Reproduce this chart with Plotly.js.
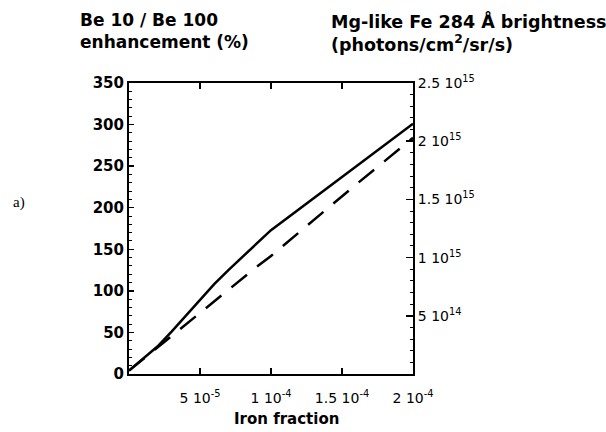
<!DOCTYPE html>
<html>
<head>
<meta charset="utf-8">
<script src="https://cdn.plot.ly/plotly-3.0.1.min.js"></script>
<style>html,body{margin:0;padding:0;background:#fff}#chart{width:606px;height:432px}</style>
</head>
<body>
<div id="chart"></div>
<script>
// Iron fraction values (solid curve)
const ironFraction = [0, 1e-5, 2e-5, 3e-5, 4e-5, 5e-5, 6e-5, 7e-5, 8e-5, 9e-5, 1e-4, 1.5e-4, 2e-4];
// Be 10 / Be 100 enhancement (%) — solid line, left axis
const enhancement = [4, 18, 33, 51, 70, 89, 108, 125, 141, 157, 173, 237, 301];
// Iron fraction values (dashed curve)
const brightnessX = [0, 1e-5, 2e-5, 3e-5, 4e-5, 5e-5, 6e-5, 7e-5, 8e-5, 9e-5, 1e-4, 1.2e-4, 1.4e-4, 1.6e-4, 1.8e-4, 2e-4];
// Mg-like Fe 284 Å brightness (photons/cm2/sr/s) — dashed line, right axis
const brightness = [2.9e13, 1.29e14, 2.21e14, 3.21e14, 4.21e14, 5.21e14, 6.21e14, 7.21e14, 8.21e14, 9.21e14, 1.014e15, 1.221e15, 1.421e15, 1.629e15, 1.829e15, 2.029e15];

const xTickVals = [5e-5, 1e-4, 1.5e-4, 2e-4];
const xTickText = ["5 10<sup>-5</sup>", "1 10<sup>-4</sup>", "1.5 10<sup>-4</sup>", "2 10<sup>-4</sup>"];
const yTickVals = [0, 50, 100, 150, 200, 250, 300, 350];
const y2TickVals = [5e14, 1e15, 1.5e15, 2e15, 2.5e15];
const y2TickText = ["5 10<sup>14</sup>", "1 10<sup>15</sup>", "1.5 10<sup>15</sup>", "2 10<sup>15</sup>", "2.5 10<sup>15</sup>"];

const FONT = "DejaVu Sans, Verdana, sans-serif";

const traces = [
  {x: ironFraction, y: enhancement, type: 'scatter', mode: 'lines',
   line: {color: '#000', width: 2.5}, yaxis: 'y', showlegend: false},
  {x: brightnessX, y: brightness, type: 'scatter', mode: 'lines',
   line: {color: '#000', width: 2.5, dash: '20px,13px'}, yaxis: 'y2', showlegend: false}
];

const layout = {
  width: 606, height: 432,
  margin: {l: 129, r: 193, t: 83, b: 58},
  paper_bgcolor: '#fff', plot_bgcolor: '#fff',
  font: {family: FONT, color: '#000'},
  showlegend: false,
  xaxis: {
    range: [0, 2e-4], tickvals: xTickVals, ticktext: xTickText,
    ticks: 'inside', ticklen: 6, tickwidth: 1.5, tickcolor: '#000',
    showline: true, linewidth: 2, linecolor: '#000', mirror: 'ticks',
    showgrid: false, zeroline: false, ticklabelstandoff: 10,
    tickfont: {family: FONT, size: 14, color: '#000'}
  },
  yaxis: {
    range: [0, 350], tickvals: yTickVals,
    ticks: 'inside', ticklen: 5, tickwidth: 1.5, tickcolor: '#000',
    minor: {dtick: 10, ticks: 'inside', ticklen: 3, tickwidth: 1, tickcolor: '#000'},
    showline: true, linewidth: 2, linecolor: '#000',
    showgrid: false, zeroline: false,
    tickfont: {family: FONT, size: 15, color: '#000', weight: 'bold'}
  },
  yaxis2: {
    range: [0, 2.5e15], overlaying: 'y', side: 'right',
    tickvals: y2TickVals, ticktext: y2TickText,
    ticks: 'inside', ticklen: 7, tickwidth: 1.5, tickcolor: '#000',
    minor: {dtick: 1e14, ticks: 'inside', ticklen: 3, tickwidth: 1, tickcolor: '#000'},
    showline: true, linewidth: 2, linecolor: '#000',
    showgrid: false, zeroline: false,
    tickfont: {family: FONT, size: 14, color: '#000'}
  },
  annotations: [
    {text: 'Be 10 / Be 100<br>enhancement (%)', xref: 'paper', yref: 'paper',
     x: -0.18, y: 1.258, xanchor: 'left', yanchor: 'top', align: 'left', showarrow: false,
     font: {family: FONT, size: 17, color: '#000', weight: 'bold'}},
    {text: 'Mg-like Fe 284 Å brightness<br>(photons/cm<sup>2</sup>/sr/s)', xref: 'paper', yref: 'paper',
     x: 0.705, y: 1.258, xanchor: 'left', yanchor: 'top', align: 'left', showarrow: false,
     font: {family: FONT, size: 17.5, color: '#000', weight: 'bold'}},
    {text: 'Iron fraction', xref: 'paper', yref: 'paper', x: 0.553, y: -0.155,
     xanchor: 'center', yanchor: 'middle', showarrow: false,
     font: {family: FONT, size: 15, color: '#000', weight: 'bold'}},
    {text: 'a)', xref: 'paper', yref: 'paper', x: -0.387, y: 0.59, xanchor: 'center', yanchor: 'middle', showarrow: false,
     font: {family: 'Liberation Serif, Times New Roman, serif', size: 15, color: '#000'}}
  ]
};

Plotly.newPlot('chart', traces, layout, {displayModeBar: false, staticPlot: true});
</script>
</body>
</html>
